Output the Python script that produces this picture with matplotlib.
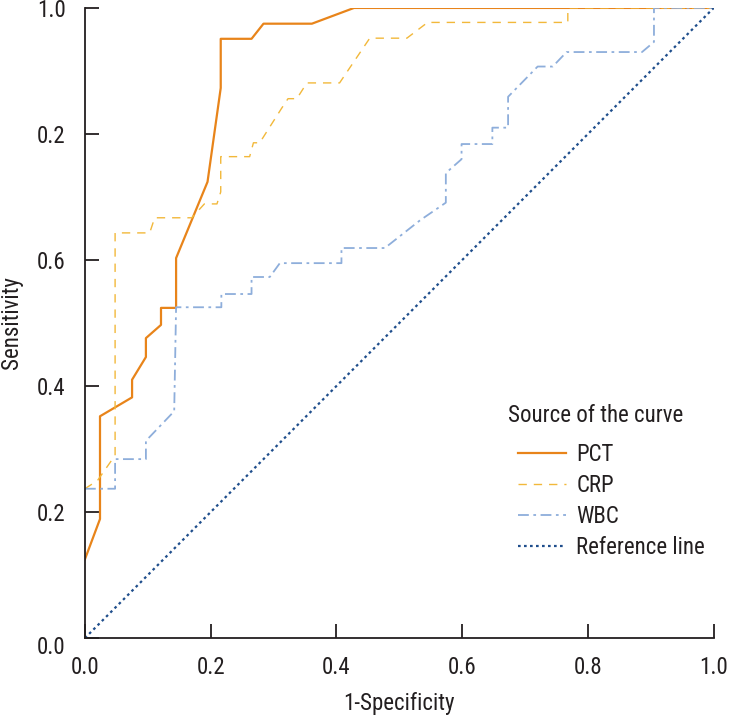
import matplotlib
matplotlib.use("Agg")
import matplotlib.pyplot as plt
from matplotlib.transforms import ScaledTranslation

plt.rcParams['font.family'] = ['Roboto Condensed', 'DejaVu Sans']

# ROC curve points
pct_x = [0, 0.024, 0.024, 0.075, 0.075, 0.097, 0.097, 0.121, 0.121, 0.145, 0.145,
         0.195, 0.216, 0.216, 0.265, 0.284, 0.361, 0.428, 1.0]
pct_y = [0.125, 0.189, 0.352, 0.382, 0.41, 0.446, 0.476, 0.497, 0.524, 0.524, 0.603,
         0.724, 0.873, 0.951, 0.951, 0.975, 0.975, 1.0, 1.0]

crp_x = [0, 0.02, 0.048, 0.048, 0.103, 0.111, 0.170, 0.19, 0.21, 0.216, 0.216, 0.262,
         0.268, 0.278, 0.313, 0.323, 0.337, 0.353, 0.405, 0.453, 0.512, 0.545, 0.768,
         0.768, 1.0]
crp_y = [0.237, 0.25, 0.29, 0.643, 0.643, 0.667, 0.667, 0.689, 0.689, 0.708, 0.764,
         0.764, 0.786, 0.786, 0.841, 0.856, 0.856, 0.881, 0.881, 0.952, 0.952, 0.977,
         0.977, 1.0, 1.0]

wbc_x = [0, 0.048, 0.048, 0.097, 0.097, 0.142, 0.145, 0.217, 0.217, 0.265, 0.265,
         0.294, 0.310, 0.408, 0.408, 0.477, 0.533, 0.574, 0.574, 0.599, 0.599, 0.648,
         0.648, 0.673, 0.673, 0.72, 0.744, 0.766, 0.886, 0.905, 0.905, 1.0]
wbc_y = [0.237, 0.237, 0.284, 0.284, 0.313, 0.360, 0.525, 0.525, 0.546, 0.546, 0.573,
         0.573, 0.595, 0.595, 0.619, 0.619, 0.663, 0.691, 0.738, 0.760, 0.784, 0.784,
         0.81, 0.81, 0.859, 0.907, 0.907, 0.930, 0.930, 0.946, 1.0, 1.0]

ref_x = [0, 1]
ref_y = [0, 1]

ticks = [0.0, 0.2, 0.4, 0.6, 0.8, 1.0]
xtick_labels = ["0.0", "0.2", "0.4", "0.6", "0.8", "1.0"]
ytick_labels = ["0.0", "0.2", "0.4", "0.6", "0.2", "1.0"]  # as printed in the original

ink = "#231f20"
fs = 16.5

fig = plt.figure(figsize=(7.32, 7.21), dpi=100)
ax = fig.add_axes([0.116, 0.115, 0.859, 0.874])

ax.plot(pct_x, pct_y, color="#e8841a", lw=1.6, ls="-", label="PCT")
ax.plot(crp_x, crp_y, color="#f2b83a", lw=1.0, ls=(0, (6, 5)), label="CRP")
ax.plot(wbc_x, wbc_y, color="#8eaedb", lw=1.3, ls=(0, (6, 2.5, 1.5, 2.5)), label="WBC")
ax.plot(ref_x, ref_y, color="#1f4e8c", lw=1.6, ls=(0, (1.2, 1.5)), label="Reference line")

ax.set_xlim(0, 1)
ax.set_ylim(0, 1)
ax.set_xticks(ticks)
ax.set_xticklabels(xtick_labels)
ax.set_yticks(ticks)
ax.set_yticklabels(ytick_labels)
ax.tick_params(direction="in", length=10, width=1.3, color=ink, labelcolor=ink,
               labelsize=fs)
ax.tick_params(axis="x", pad=13)
ax.tick_params(axis="y", pad=14)
for s in ("top", "right"):
    ax.spines[s].set_visible(False)
for s in ("left", "bottom"):
    ax.spines[s].set_color(ink)
    ax.spines[s].set_linewidth(1.3)

# the y "0.0" label sits a little lower in the original
lbl0 = ax.get_yticklabels()[0]
lbl0.set_transform(lbl0.get_transform() + ScaledTranslation(0, -7 / 100, fig.dpi_scale_trans))

ax.set_xlabel("1-Specificity", fontsize=fs, color=ink, labelpad=9)
ax.set_ylabel("Sensitivity", fontsize=fs, color=ink, labelpad=10)

fig.text(508 / 732, (721 - 422) / 721, "Source of the curve", fontsize=fs, color=ink,
         ha="left", va="baseline")
leg = ax.legend(loc="upper left", bbox_to_anchor=(0.708, 0.385),
                bbox_transform=fig.transFigure, frameon=False, fontsize=fs,
                handlelength=2.1, handletextpad=0.44, labelspacing=0.34,
                borderpad=0, borderaxespad=0)
for t in leg.get_texts():
    t.set_color(ink)

fig.savefig("out.png", dpi=100)
